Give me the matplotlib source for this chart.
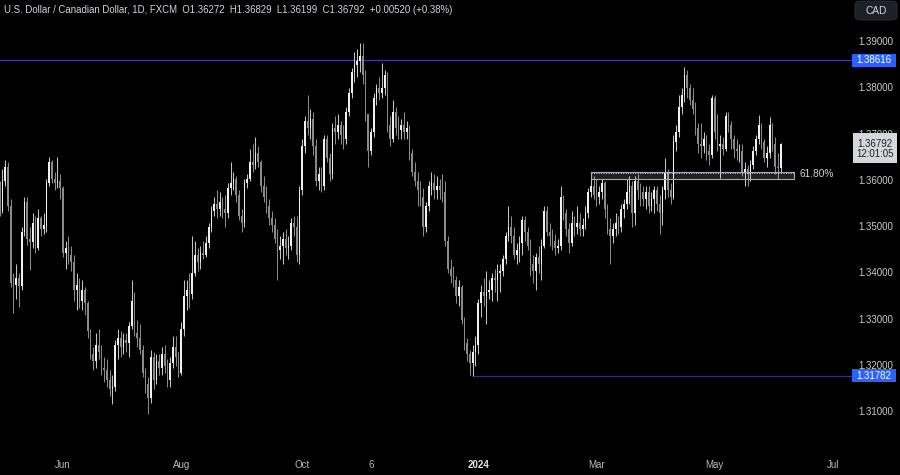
import numpy as np
import pandas as pd
import matplotlib
matplotlib.use("Agg")
import matplotlib.pyplot as plt
from matplotlib.patches import Rectangle, FancyBboxPatch
from matplotlib.transforms import blended_transform_factory as blend

plt.rcParams["font.family"] = ["Liberation Sans", "DejaVu Sans"]

title = "U.S. Dollar / Canadian Dollar, 1D, FXCM"
ohlc_text = "O1.36272  H1.36829  L1.36199  C1.36792  +0.00520 (+0.38%)"

# daily USD/CAD candles, 2023-05-01 .. 2024-06-04 (FXCM, no Dec 25 / Jan 1)
first_open = 1.3585
closes = [
    # May 2023
    1.3535, 1.3600, 1.3630, 1.3545, 1.3380, 1.3375, 1.3390, 1.3372, 1.3490, 1.3555, 1.3475, 1.3468,
    1.3510, 1.3455, 1.3520, 1.3495, 1.3505, 1.3595, 1.3640, 1.3605, 1.3595, 1.3600, 1.3585,
    # Jun
    1.3445, 1.3455, 1.3440, 1.3425, 1.3365, 1.3375, 1.3340, 1.3365, 1.3335, 1.3275, 1.3225, 1.3210,
    1.3245, 1.3230, 1.3195, 1.3190, 1.3170, 1.3150, 1.3155, 1.3245, 1.3260, 1.3240,
    # Jul
    1.3255, 1.3250, 1.3285, 1.3340, 1.3270, 1.3260, 1.3235, 1.3185, 1.3160, 1.3130, 1.3220, 1.3170,
    1.3210, 1.3195, 1.3225, 1.3200, 1.3170, 1.3205, 1.3240, 1.3220, 1.3185,
    # Aug
    1.3280, 1.3350, 1.3365, 1.3355, 1.3400, 1.3440, 1.3425, 1.3445, 1.3440, 1.3465, 1.3500, 1.3535,
    1.3550, 1.3540, 1.3555, 1.3540, 1.3530, 1.3585, 1.3595, 1.3605, 1.3570, 1.3525, 1.3510,
    # Sep
    1.3595, 1.3605, 1.3640, 1.3635, 1.3660, 1.3640, 1.3590, 1.3565, 1.3545, 1.3520, 1.3505, 1.3475,
    1.3450, 1.3460, 1.3475, 1.3455, 1.3460, 1.3510, 1.3500, 1.3440, 1.3580,
    # Oct
    1.3675, 1.3730, 1.3715, 1.3735, 1.3675, 1.3600, 1.3615, 1.3590, 1.3690, 1.3650, 1.3615, 1.3715,
    1.3705, 1.3720, 1.3700, 1.3690, 1.3750, 1.3790, 1.3835, 1.3850, 1.3860, 1.3870,
    # Nov
    1.3830, 1.3745, 1.3665, 1.3705, 1.3780, 1.3800, 1.3790, 1.3800, 1.3830, 1.3720, 1.3690, 1.3750,
    1.3715, 1.3710, 1.3720, 1.3705, 1.3715, 1.3660, 1.3620, 1.3600, 1.3580, 1.3565,
    # Dec
    1.3500, 1.3545, 1.3590, 1.3595, 1.3580, 1.3590, 1.3580, 1.3575, 1.3470, 1.3410, 1.3395, 1.3385,
    1.3350, 1.3370, 1.3300, 1.3250, 1.3225, 1.3205, 1.3230, 1.3245,
    # Jan 2024
    1.3335, 1.3360, 1.3350, 1.3360, 1.3365, 1.3390, 1.3385, 1.3400, 1.3405, 1.3430, 1.3480, 1.3500,
    1.3480, 1.3440, 1.3450, 1.3465, 1.3515, 1.3490, 1.3460, 1.3420, 1.3405, 1.3435,
    # Feb
    1.3420, 1.3460, 1.3535, 1.3490, 1.3480, 1.3470, 1.3455, 1.3460, 1.3565, 1.3530, 1.3495, 1.3465,
    1.3510, 1.3500, 1.3510, 1.3495, 1.3505, 1.3530, 1.3575, 1.3590, 1.3570,
    # Mar
    1.3565, 1.3575, 1.3595, 1.3540, 1.3495, 1.3480, 1.3495, 1.3510, 1.3500, 1.3540, 1.3550, 1.3575,
    1.3590, 1.3530, 1.3600, 1.3580, 1.3575, 1.3560, 1.3575, 1.3545, 1.3560,
    # Apr
    1.3580, 1.3550, 1.3530, 1.3580, 1.3620, 1.3580, 1.3565, 1.3685, 1.3705, 1.3760, 1.3785, 1.3830,
    1.3800, 1.3775, 1.3755, 1.3715, 1.3680, 1.3675, 1.3690, 1.3665, 1.3655, 1.3780,
    # May
    1.3705, 1.3675, 1.3680, 1.3670, 1.3740, 1.3720, 1.3690, 1.3670, 1.3665, 1.3665, 1.3620, 1.3625,
    1.3615, 1.3635, 1.3665, 1.3690, 1.3720, 1.3685, 1.3650, 1.3660, 1.3720, 1.3680, 1.3630,
    # Jun
    1.36272, 1.36792,
]
highs = [
    1.3600, 1.3625, 1.3645, 1.3640, 1.3560, 1.3400, 1.3420, 1.3400, 1.3500, 1.3565, 1.3565, 1.3500,
    1.3530, 1.3525, 1.3540, 1.3525, 1.3530, 1.3605, 1.3652, 1.3645, 1.3620, 1.3652, 1.3615,
    1.3590, 1.3470, 1.3480, 1.3460, 1.3440, 1.3400, 1.3390, 1.3385, 1.3370, 1.3340, 1.3280, 1.3240,
    1.3270, 1.3280, 1.3245, 1.3220, 1.3215, 1.3190, 1.3180, 1.3255, 1.3280, 1.3275,
    1.3270, 1.3270, 1.3295, 1.3385, 1.3360, 1.3300, 1.3290, 1.3245, 1.3195, 1.3175, 1.3235, 1.3230,
    1.3225, 1.3225, 1.3240, 1.3245, 1.3215, 1.3220, 1.3265, 1.3265, 1.3230,
    1.3295, 1.3385, 1.3385, 1.3400, 1.3480, 1.3470, 1.3455, 1.3460, 1.3470, 1.3480, 1.3510, 1.3545,
    1.3565, 1.3580, 1.3575, 1.3565, 1.3570, 1.3595, 1.3640, 1.3620, 1.3610, 1.3580, 1.3540,
    1.3605, 1.3615, 1.3670, 1.3680, 1.3695, 1.3675, 1.3645, 1.3610, 1.3590, 1.3560, 1.3535, 1.3520,
    1.3495, 1.3480, 1.3490, 1.3495, 1.3480, 1.3520, 1.3525, 1.3525, 1.3590,
    1.3690, 1.3740, 1.3785, 1.3755, 1.3750, 1.3690, 1.3630, 1.3630, 1.3700, 1.3700, 1.3660, 1.3725,
    1.3740, 1.3745, 1.3730, 1.3720, 1.3760, 1.3800, 1.3845, 1.3880, 1.3885, 1.3898,
    1.3898, 1.3840, 1.3745, 1.3715, 1.3790, 1.3810, 1.3825, 1.3855, 1.3840, 1.3835, 1.3740, 1.3775,
    1.3760, 1.3740, 1.3735, 1.3750, 1.3730, 1.3720, 1.3670, 1.3640, 1.3620, 1.3600,
    1.3585, 1.3555, 1.3600, 1.3620, 1.3615, 1.3610, 1.3605, 1.3615, 1.3600, 1.3480, 1.3430, 1.3415,
    1.3395, 1.3385, 1.3375, 1.3305, 1.3260, 1.3235, 1.3245, 1.3265,
    1.3345, 1.3375, 1.3390, 1.3405, 1.3385, 1.3400, 1.3410, 1.3420, 1.3420, 1.3440, 1.3490, 1.3545,
    1.3525, 1.3500, 1.3465, 1.3480, 1.3525, 1.3525, 1.3500, 1.3475, 1.3440, 1.3445,
    1.3460, 1.3475, 1.3545, 1.3545, 1.3510, 1.3495, 1.3485, 1.3475, 1.3590, 1.3570, 1.3540, 1.3510,
    1.3535, 1.3525, 1.3545, 1.3530, 1.3520, 1.3545, 1.3585, 1.3620, 1.3610,
    1.3605, 1.3590, 1.3605, 1.3600, 1.3550, 1.3520, 1.3510, 1.3530, 1.3525, 1.3550, 1.3560, 1.3605,
    1.3610, 1.3600, 1.3610, 1.3615, 1.3595, 1.3590, 1.3590, 1.3590, 1.3575,
    1.3590, 1.3590, 1.3570, 1.3590, 1.3650, 1.3625, 1.3595, 1.3700, 1.3720, 1.3785, 1.3800, 1.3846,
    1.3840, 1.3810, 1.3800, 1.3770, 1.3725, 1.3725, 1.3705, 1.3700, 1.3680, 1.3785,
    1.3785, 1.3745, 1.3700, 1.3695, 1.3750, 1.3750, 1.3730, 1.3700, 1.3690, 1.3680, 1.3680, 1.3640,
    1.3635, 1.3645, 1.3675, 1.3700, 1.3742, 1.3725, 1.3690, 1.3675, 1.3738, 1.3725, 1.3695,
    1.3660, 1.36829,
]
lows = [
    1.3525, 1.3530, 1.3590, 1.3535, 1.3370, 1.3315, 1.3345, 1.3328, 1.3365, 1.3480, 1.3462, 1.3407,
    1.3455, 1.3445, 1.3450, 1.3480, 1.3485, 1.3490, 1.3590, 1.3595, 1.3580, 1.3585, 1.3560,
    1.3435, 1.3410, 1.3420, 1.3405, 1.3340, 1.3320, 1.3325, 1.3320, 1.3310, 1.3260, 1.3215, 1.3190,
    1.3195, 1.3215, 1.3180, 1.3165, 1.3155, 1.3135, 1.3118, 1.3145, 1.3215, 1.3220,
    1.3225, 1.3230, 1.3220, 1.3280, 1.3265, 1.3240, 1.3225, 1.3175, 1.3140, 1.3095, 1.3120, 1.3150,
    1.3160, 1.3180, 1.3180, 1.3185, 1.3155, 1.3155, 1.3195, 1.3200, 1.3175,
    1.3180, 1.3265, 1.3320, 1.3325, 1.3345, 1.3395, 1.3405, 1.3410, 1.3430, 1.3435, 1.3455, 1.3490,
    1.3525, 1.3520, 1.3525, 1.3520, 1.3500, 1.3520, 1.3570, 1.3580, 1.3555, 1.3515, 1.3490,
    1.3500, 1.3585, 1.3600, 1.3620, 1.3625, 1.3630, 1.3575, 1.3555, 1.3530, 1.3505, 1.3490, 1.3465,
    1.3385, 1.3430, 1.3420, 1.3440, 1.3430, 1.3450, 1.3480, 1.3425, 1.3420,
    1.3570, 1.3660, 1.3700, 1.3690, 1.3655, 1.3590, 1.3580, 1.3575, 1.3580, 1.3640, 1.3600, 1.3605,
    1.3680, 1.3690, 1.3680, 1.3670, 1.3680, 1.3740, 1.3780, 1.3815, 1.3825, 1.3835,
    1.3810, 1.3730, 1.3630, 1.3655, 1.3695, 1.3765, 1.3775, 1.3780, 1.3785, 1.3705, 1.3675, 1.3685,
    1.3700, 1.3690, 1.3690, 1.3690, 1.3690, 1.3645, 1.3610, 1.3590, 1.3545, 1.3545,
    1.3480, 1.3490, 1.3535, 1.3570, 1.3560, 1.3560, 1.3560, 1.3555, 1.3460, 1.3400, 1.3380, 1.3370,
    1.3335, 1.3330, 1.3290, 1.3235, 1.3210, 1.3180, 1.3178, 1.3200,
    1.3225, 1.3305, 1.3330, 1.3290, 1.3345, 1.3340, 1.3360, 1.3340, 1.3360, 1.3395, 1.3420, 1.3470,
    1.3465, 1.3430, 1.3420, 1.3425, 1.3440, 1.3470, 1.3450, 1.3395, 1.3380, 1.3365,
    1.3400, 1.3385, 1.3455, 1.3480, 1.3460, 1.3450, 1.3440, 1.3445, 1.3450, 1.3515, 1.3480, 1.3445,
    1.3460, 1.3480, 1.3485, 1.3480, 1.3480, 1.3495, 1.3520, 1.3565, 1.3560,
    1.3545, 1.3550, 1.3560, 1.3520, 1.3485, 1.3420, 1.3465, 1.3480, 1.3485, 1.3490, 1.3520, 1.3540,
    1.3550, 1.3500, 1.3505, 1.3560, 1.3545, 1.3545, 1.3540, 1.3530, 1.3535,
    1.3530, 1.3535, 1.3485, 1.3505, 1.3560, 1.3565, 1.3550, 1.3560, 1.3665, 1.3695, 1.3745, 1.3770,
    1.3780, 1.3765, 1.3745, 1.3700, 1.3660, 1.3650, 1.3660, 1.3645, 1.3635, 1.3650,
    1.3690, 1.3665, 1.3606, 1.3655, 1.3665, 1.3705, 1.3670, 1.3650, 1.3645, 1.3640, 1.3610, 1.3590,
    1.3590, 1.3600, 1.3625, 1.3655, 1.3680, 1.3670, 1.3640, 1.3630, 1.3650, 1.3665, 1.3615,
    1.3605, 1.36199,
]

price_ticks = [1.31, 1.32, 1.33, 1.34, 1.35, 1.36, 1.37, 1.38, 1.39]
resistance = 1.38616
support = 1.31782
support_start = "2023-12-28"
fib_low, fib_high, fib_level = 1.3604, 1.3620, 1.3617
fib_start, fib_end = "2024-02-28", "2024-06-11"
fib_label = "61.80%"
last_price = 1.36792
countdown = "12:01:05"
time_ticks = [("2023-06-01", "Jun"), ("2023-08-01", "Aug"), ("2023-10-02", "Oct"),
              ("2023-11-06", "6"), ("2024-01-02", "2024"), ("2024-03-01", "Mar"),
              ("2024-05-01", "May"), ("2024-07-01", "Jul")]

# trading calendar -> bar index
cal = pd.bdate_range("2023-05-01", "2024-07-31")
cal = cal[~cal.isin(pd.to_datetime(["2023-12-25", "2024-01-01"]))]
pos = {d.strftime("%Y-%m-%d"): i for i, d in enumerate(cal)}

c = np.array(closes)
h = np.array(highs)
l = np.array(lows)
o = np.array([first_open] + closes[:-1])
x = np.arange(len(c))
up = c >= o

W, H = 900, 475
fig = plt.figure(figsize=(9, 4.75), dpi=100, facecolor="black")
ax = fig.add_axes([0, 25 / H, 852 / W, 450 / H])
ax.set_facecolor("black")
ax.set_xlim(0.25 / 2.75, 852.25 / 2.75)
ax.set_ylim(1.30177, 1.39915)
ax.axis("off")

up_col, dn_col = "#f0f0f0", "#8a8a8a"
ax.vlines(x[up], l[up], h[up], color="#c4c4c4", linewidth=0.75, zorder=2)
ax.vlines(x[~up], l[~up], h[~up], color=dn_col, linewidth=0.75, zorder=2)
body = np.maximum(np.abs(c - o), 0.00008)
ax.bar(x[up], body[up], bottom=np.minimum(o, c)[up], width=0.7, color=up_col, linewidth=0, zorder=3)
ax.bar(x[~up], body[~up], bottom=np.minimum(o, c)[~up], width=0.7, color=dn_col, linewidth=0, zorder=3)

# levels
ax.axhline(resistance, color="#3a3f9e", linewidth=0.9, zorder=1)
ax.hlines(support, pos[support_start], ax.get_xlim()[1], color="#2e3475", linewidth=0.9, zorder=1)

# fib zone
x0, x1 = pos[fib_start], pos[fib_end]
ax.add_patch(Rectangle((x0, fib_low), x1 - x0, fib_high - fib_low, facecolor=(1, 1, 1, 0.13),
                       edgecolor="#a8abb3", linewidth=0.8, zorder=4))
ax.hlines(fib_level, x0, x1, color="#d0d0d0", linewidth=0.7, linestyles=(0, (1, 1.5)), zorder=4)
ax.text(x1 + 2, fib_level - 0.0002, fib_label, color="#d1d4dc", fontsize=7.3, va="center", ha="left", zorder=5)

# right price scale
ty = blend(fig.transFigure, ax.transData)
for p in price_ticks:
    fig.text(893 / W, p, f"{p:.5f}", transform=ty, color="#c8cad0", fontsize=7, ha="right", va="center")

for lvl in (resistance, support):
    y = ax.transData.transform((0, lvl))[1] / H
    fig.patches.append(Rectangle((852 / W, y - 6.5 / H), 44 / W, 13 / H, transform=fig.transFigure,
                                 facecolor="#2962ff", edgecolor="none", zorder=5))
    fig.text(874 / W, lvl, f"{lvl:.5f}", transform=ty, color="white", fontsize=7, ha="center", va="center", zorder=6)

yp = ax.transData.transform((0, last_price))[1] / H
fig.patches.append(Rectangle((853 / W, yp - 18.5 / H), 44 / W, 29.5 / H, transform=fig.transFigure,
                             facecolor="#d6d7db", edgecolor="none", zorder=5))
fig.text(875 / W, yp + 0.4 / H, f"{last_price:.5f}", transform=fig.transFigure, color="#202228",
         fontsize=7, ha="center", va="center", zorder=6)
fig.text(875 / W, yp - 10 / H, countdown, transform=fig.transFigure, color="#202228",
         fontsize=7, ha="center", va="center", zorder=6)

# currency box
fig.patches.append(FancyBboxPatch((855 / W, (H - 20) / H), 42 / W, 19 / H,
                                  boxstyle="round,pad=0,rounding_size=0.007", transform=fig.transFigure,
                                  facecolor="#1e2029", edgecolor="#2c2f38", linewidth=0.6, zorder=5))
fig.text(876 / W, (H - 10.5) / H, "CAD", color="#d1d4dc", fontsize=7.3, ha="center", va="center", zorder=6)

# time scale
tx = blend(ax.transData, fig.transFigure)
for d, lab in time_ticks:
    bold = lab == "2024"
    fig.text(pos[d], 10 / H, lab, transform=tx, color="#e6e7ea" if bold else "#b8bac0",
             fontsize=7, ha="center", va="center", fontweight="bold" if bold else "normal")

# header
fig.text(4 / W, (H - 10) / H, title + "  " + ohlc_text, color="#d1d4dc", fontsize=6.9, ha="left", va="center")

fig.savefig("out.png", dpi=100, facecolor="black")
